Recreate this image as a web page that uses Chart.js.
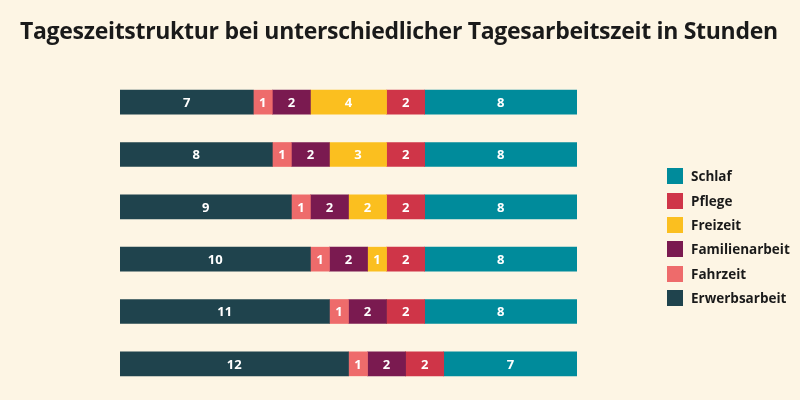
<!DOCTYPE html>
<html>
<head>
<meta charset="utf-8">
<script src="https://cdn.jsdelivr.net/npm/chart.js@4"></script>
<style>
  body { margin: 0; background: #fdf5e4; font-family: "Open Sans", sans-serif; }
  #wrap { position: relative; width: 800px; height: 400px; }
  h1 { position: absolute; left: 20px; top: 14px; margin: 0; font-size: 23px; font-weight: 700; color: #1a1a1a; letter-spacing: -0.3px; }
  #legend { position: absolute; left: 667px; top: 164px; }
  .item { display: flex; align-items: center; height: 24.4px; font-size: 13.5px; font-weight: 700; color: #1a1a1a; }
  .sw { width: 16px; height: 16px; margin-right: 8px; }
</style>
</head>
<body>
<div id="wrap">
  <canvas id="c" width="800" height="400"></canvas>
  <h1>Tageszeitstruktur bei unterschiedlicher Tagesarbeitszeit in Stunden</h1>
  <div id="legend"></div>
</div>
<script>
// Rows: one per working-day length
const rows = ['7', '8', '9', '10', '11', '12'];
const seriesNames = ['Erwerbsarbeit', 'Fahrzeit', 'Familienarbeit', 'Freizeit', 'Pflege', 'Schlaf'];
const colors = ['#1f434d', '#ee6b6b', '#7a1a50', '#fbbf1f', '#cf3548', '#008b9b'];
const erwerbsarbeit = [7, 8, 9, 10, 11, 12];
const fahrzeit = [1, 1, 1, 1, 1, 1];
const familienarbeit = [2, 2, 2, 2, 2, 2];
const freizeit = [4, 3, 2, 1, 0, 0];
const pflege = [2, 2, 2, 2, 2, 2];
const schlaf = [8, 8, 8, 8, 8, 7];
const values = [erwerbsarbeit, fahrzeit, familienarbeit, freizeit, pflege, schlaf];

// legend, Schlaf on top
const legend = document.getElementById('legend');
seriesNames.slice().reverse().forEach((name, i) => {
  const idx = seriesNames.length - 1 - i;
  legend.innerHTML += `<div class="item"><div class="sw" style="background:${colors[idx]}"></div>${name}</div>`;
});

// write the value in the middle of each segment
const barLabels = {
  id: 'barLabels',
  afterDatasetsDraw(chart) {
    const ctx = chart.ctx;
    ctx.save();
    ctx.fillStyle = '#fff';
    ctx.font = 'bold 13px "Open Sans"';
    ctx.textAlign = 'center';
    ctx.textBaseline = 'middle';
    chart.data.datasets.forEach((ds, i) => {
      chart.getDatasetMeta(i).data.forEach((bar, j) => {
        const v = ds.data[j];
        if (!v) return;
        ctx.fillText(v, (bar.x + bar.base) / 2, bar.y + 1);
      });
    });
    ctx.restore();
  }
};

new Chart(document.getElementById('c'), {
  type: 'bar',
  data: {
    labels: rows,
    datasets: seriesNames.map((name, i) => ({
      label: name,
      data: values[i],
      backgroundColor: colors[i],
      borderWidth: 0,
      barThickness: 24
    }))
  },
  options: {
    indexAxis: 'y',
    responsive: false,
    animation: false,
    layout: { padding: { left: 120, right: 223, top: 76, bottom: 10 } },
    plugins: { legend: { display: false }, tooltip: { enabled: false } },
    scales: {
      x: { stacked: true, min: 0, max: 24, display: false },
      y: { stacked: true, display: false }
    }
  },
  plugins: [barLabels]
});
</script>
</body>
</html>
